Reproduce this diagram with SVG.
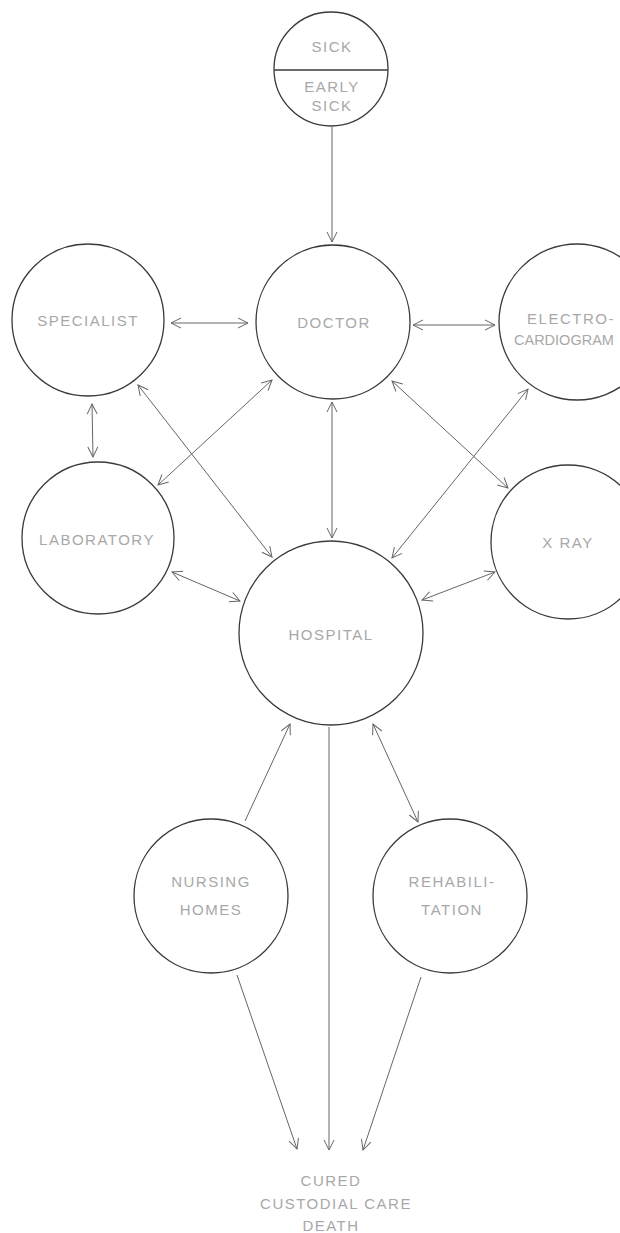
<svg xmlns="http://www.w3.org/2000/svg" width="620" height="1233" viewBox="0 0 620 1233">
<style>
.node{fill:none;stroke:#3a3a3a;stroke-width:1.3}
.lbl{font-family:"Liberation Sans",Arial,sans-serif;font-size:15px;fill:#a8a8a8;text-anchor:middle;letter-spacing:1.5px}
.c{stroke:#666;stroke-width:1;fill:none}
</style>
<defs>
<marker id="a" viewBox="0 0 12 12" refX="11" refY="6" markerWidth="12" markerHeight="12" markerUnits="userSpaceOnUse" orient="auto-start-reverse">
<path d="M1,1 L11,6 L1,11" fill="none" stroke="#666" stroke-width="1"/>
</marker>
</defs>
<rect width="620" height="1233" fill="#ffffff"/>
<g id="connectors">
<line class="c" x1="332" y1="127" x2="332" y2="242" marker-end="url(#a)"/>
<line class="c" x1="171" y1="323" x2="248" y2="323" marker-start="url(#a)" marker-end="url(#a)"/>
<line class="c" x1="413" y1="325" x2="495" y2="325" marker-start="url(#a)" marker-end="url(#a)"/>
<line class="c" x1="92" y1="404" x2="93" y2="457" marker-start="url(#a)" marker-end="url(#a)"/>
<line class="c" x1="138" y1="385" x2="272" y2="557" marker-start="url(#a)" marker-end="url(#a)"/>
<line class="c" x1="272" y1="380" x2="158" y2="485" marker-start="url(#a)" marker-end="url(#a)"/>
<line class="c" x1="172" y1="572" x2="240" y2="601" marker-start="url(#a)" marker-end="url(#a)"/>
<line class="c" x1="332" y1="402" x2="332" y2="538" marker-start="url(#a)" marker-end="url(#a)"/>
<line class="c" x1="392" y1="381" x2="508" y2="488" marker-start="url(#a)" marker-end="url(#a)"/>
<line class="c" x1="392" y1="558" x2="528" y2="389" marker-start="url(#a)" marker-end="url(#a)"/>
<line class="c" x1="422" y1="600" x2="495" y2="572" marker-start="url(#a)" marker-end="url(#a)"/>
<line class="c" x1="245" y1="821" x2="290" y2="724" marker-end="url(#a)"/>
<line class="c" x1="373" y1="724" x2="418" y2="822" marker-start="url(#a)" marker-end="url(#a)"/>
<line class="c" x1="329" y1="727" x2="329" y2="1150" marker-end="url(#a)"/>
<line class="c" x1="237" y1="975" x2="297" y2="1149" marker-end="url(#a)"/>
<line class="c" x1="421" y1="977" x2="363" y2="1150" marker-end="url(#a)"/>
</g>
<g id="sick">
<circle class="node" cx="331" cy="69" r="57"/>
<line class="node" x1="274" y1="70" x2="388" y2="70"/>
<text class="lbl" x="332" y="52">SICK</text>
<text class="lbl" x="332" y="92">EARLY</text>
<text class="lbl" x="332" y="111">SICK</text>
</g>
<g id="doctor">
<circle class="node" cx="333" cy="322" r="77"/>
<text class="lbl" x="334" y="328">DOCTOR</text>
</g>
<g id="specialist">
<circle class="node" cx="88" cy="320" r="76"/>
<text class="lbl" x="88" y="326">SPECIALIST</text>
</g>
<g id="electrocardiogram">
<circle class="node" cx="577" cy="322" r="78"/>
<text class="lbl" x="571" y="324">ELECTRO-</text>
<text class="lbl" x="514" y="345" style="text-anchor:start;letter-spacing:0;font-size:14.5px">CARDIOGRAM</text>
</g>
<g id="laboratory">
<circle class="node" cx="98" cy="538" r="76"/>
<text class="lbl" x="97" y="545">LABORATORY</text>
</g>
<g id="xray">
<circle class="node" cx="568" cy="542" r="77"/>
<text class="lbl" x="568" y="548">X RAY</text>
</g>
<g id="hospital">
<circle class="node" cx="331" cy="633" r="92"/>
<text class="lbl" x="331" y="640">HOSPITAL</text>
</g>
<g id="nursing-homes">
<circle class="node" cx="211" cy="896" r="77"/>
<text class="lbl" x="211" y="887">NURSING</text>
<text class="lbl" x="211" y="915">HOMES</text>
</g>
<g id="rehabilitation">
<circle class="node" cx="450" cy="896" r="77"/>
<text class="lbl" x="452" y="887">REHABILI-</text>
<text class="lbl" x="452" y="915">TATION</text>
</g>
<g id="outcomes">
<text class="lbl" x="331" y="1186">CURED</text>
<text class="lbl" x="336" y="1209">CUSTODIAL CARE</text>
<text class="lbl" x="331" y="1231">DEATH</text>
</g>
</svg>
